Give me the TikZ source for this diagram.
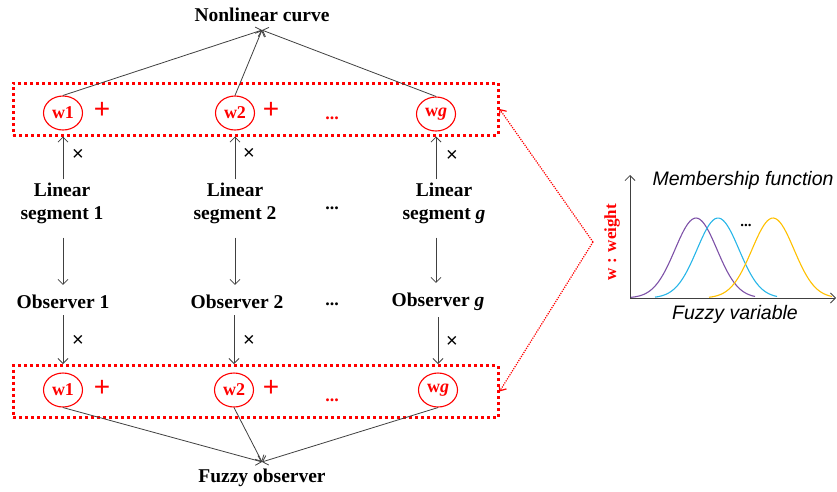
\documentclass[tikz,border=0pt]{standalone}
\usepackage{fontspec}
\setmainfont{Liberation Serif}
\newfontfamily\arialf{Liberation Sans}
\usetikzlibrary{arrows.meta,shapes.geometric}
\definecolor{myred}{RGB}{255,0,0}
\definecolor{arrgray}{RGB}{64,64,64}
\definecolor{mfpurple}{RGB}{126,82,168}
\definecolor{mfblue}{RGB}{40,182,232}
\definecolor{mfyellow}{RGB}{255,192,0}
\begin{document}
\begin{tikzpicture}[x=1pt,y=-1pt,
 lbl/.style={font=\fontsize{19.5}{23}\selectfont\bfseries, inner sep=0pt, align=center},
 wnode/.style={ellipse, draw=myred, line width=1.1pt, minimum width=39pt, minimum height=34pt, inner sep=0pt, text=myred, font=\fontsize{18}{20}\selectfont\bfseries},
 plus/.style={text=myred, font=\arialf\fontsize{28}{28}\selectfont, inner sep=0pt},
 rdots/.style={text=myred, font=\fontsize{18}{18}\selectfont\bfseries, inner sep=0pt},
 bdots/.style={font=\fontsize{18}{18}\selectfont\bfseries, inner sep=0pt},
 timesmk/.style={font=\arialf\fontsize{20}{20}\selectfont, inner sep=0pt},
 dotbox/.style={draw=myred, line width=3pt, dash pattern=on 3pt off 3pt, minimum width=485pt, minimum height=52pt, inner sep=0pt},
 arr/.style={draw=arrgray, line width=0.8pt, -{Straight Barb[length=5pt,width=10pt]}},
 redarr/.style={draw=myred, line width=1.2pt, dash pattern=on 1.2pt off 1.2pt, -{Straight Barb[length=5pt,width=9pt]}},
 sansit/.style={font=\arialf\itshape\fontsize{19.5}{20}\selectfont, inner sep=0pt},
 curve/.style={line width=1.1pt, smooth},
]
\useasboundingbox (0,0) rectangle (837,491);

% top
\node[lbl] (nl) at (262,15) {Nonlinear curve};
\node[dotbox] (tb) at (255.5,109) {};
\node[wnode] (t1) at (63,113) {w1};
\node[wnode] (t2) at (235,113) {w2};
\node[wnode] (tg) at (436,114) {w\textit{g}};
\node[plus] (tp1) at (102,110) {+};
\node[plus] (tp2) at (271,110) {+};
\node[rdots] (td) at (332,118) {...};

% middle
\node[lbl] (l1) at (62,203) {Linear\\segment 1};
\node[lbl] (l2) at (235,203) {Linear\\segment 2};
\node[lbl] (lg) at (444,203) {Linear\\segment \textit{g}};
\node[bdots] (ld) at (332,208) {...};
\node[lbl] (o1) at (63,302) {Observer 1};
\node[lbl] (o2) at (237,302) {Observer 2};
\node[lbl] (og) at (438,302) {Observer \textit{g}};
\node[bdots] (od) at (332,304) {...};

\node[timesmk] (x1) at (78,155) {×};
\node[timesmk] (x2) at (249,154) {×};
\node[timesmk] (xg) at (452,156) {×};
\node[timesmk] (x4) at (78,341) {×};
\node[timesmk] (x5) at (249,341) {×};
\node[timesmk] (x6) at (452,342) {×};

% bottom
\node[dotbox] (bb) at (255.5,391.5) {};
\node[wnode] (b1) at (63,390) {w1};
\node[wnode] (b2) at (234,390) {w2};
\node[wnode] (bg) at (438,390) {w\textit{g}};
\node[plus] (bp1) at (102,388) {+};
\node[plus] (bp2) at (271,388) {+};
\node[rdots] (bd) at (332,400) {...};
\node[lbl] (fo) at (262,478) {Fuzzy observer};

% arrows
\foreach \t in {t1,t2,tg} \draw[arr] (\t.north) -- ([yshift=-8pt]nl.south);
\foreach \b in {b1,b2,bg} \draw[arr] (\b.south) -- ([yshift=7pt]fo.north);
\draw[arr] ([yshift=3pt]l1.north -| t1) -- (t1 |- tb.south);
\draw[arr] ([yshift=3pt]l2.north -| t2) -- (t2 |- tb.south);
\draw[arr] ([yshift=3pt]lg.north -| tg) -- (tg |- tb.south);
\draw[arr] ([yshift=-14pt]l1.south -| t1) -- ([yshift=10pt]o1.north -| t1);
\draw[arr] ([yshift=-14pt]l2.south -| t2) -- ([yshift=10pt]o2.north -| t2);
\draw[arr] ([yshift=-14pt]lg.south -| tg) -- ([yshift=10pt]og.north -| tg);
\draw[arr] ([yshift=-6pt]o1.south -| b1) -- (b1 |- bb.north);
\draw[arr] ([yshift=-6pt]o2.south -| b2) -- (b2 |- bb.north);
\draw[arr] ([yshift=-6pt]og.south -| bg) -- (bg |- bb.north);

% red dotted links
\coordinate (v) at (593,242);
\draw[redarr] (v) -- (tb.east);
\draw[redarr] (v) -- (bb.east);

% chart
\node[rotate=90, text=myred, font=\fontsize{17}{17}\selectfont\bfseries, inner sep=0pt] (wl) at (612,242) {w : weight};
\coordinate (o) at (630,298);
\coordinate (yend) at (630,175);
\coordinate (xend) at (836,298);
\draw[arr] (o) -- (yend);
\draw[arr] (o) -- (xend);
\node[sansit] (mf) at (743,180) {Membership function};
\node[sansit] (fv) at (735,314) {Fuzzy variable};
\draw[curve, mfpurple] plot[domain=631:755, samples=60] (\x, {298-80*exp(-((\x-696)/21)^2/2)});
\draw[curve, mfblue] plot[domain=655:777, samples=60] (\x, {298-80*exp(-((\x-718)/21)^2/2)});
\draw[curve, mfyellow] plot[domain=709:832, samples=60] (\x, {298-80*exp(-((\x-773)/21)^2/2)});
\node[font=\fontsize{15}{15}\selectfont\bfseries, inner sep=0pt] (cd) at (746,225) {...};
\end{tikzpicture}
\end{document}
